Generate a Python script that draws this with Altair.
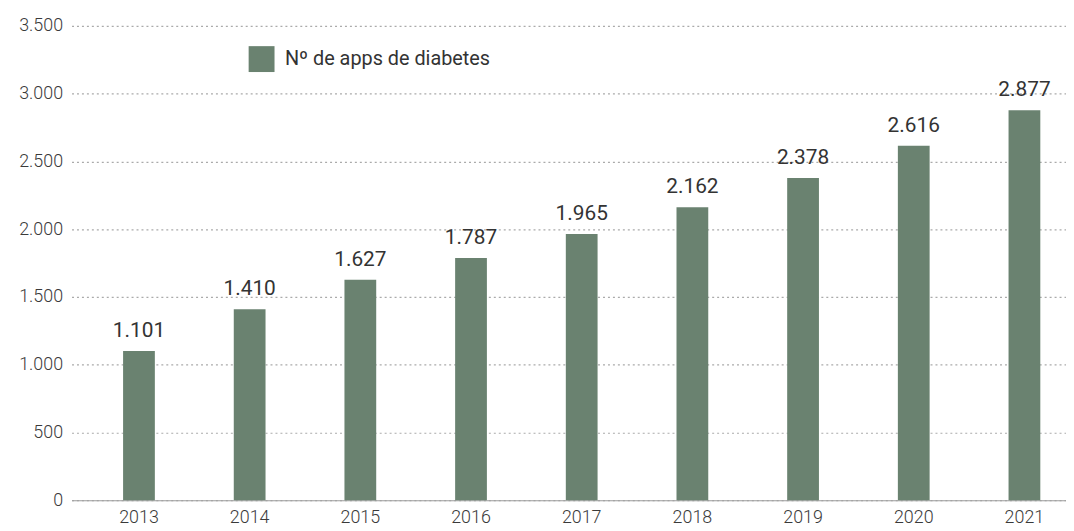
import altair as alt
import pandas as pd

years = ["2013", "2014", "2015", "2016", "2017", "2018", "2019", "2020", "2021"]
apps = [1101, 1410, 1627, 1787, 1965, 2162, 2378, 2616, 2877]
series_name = "Nº de apps de diabetes"

df = pd.DataFrame({"year": years, "apps": apps})
df["serie"] = series_name
df["label"] = [f"{v:,}".replace(",", ".") for v in apps]

FONT = "Roboto"
GREEN = "#6a8270"

x = alt.X("year:N", title=None,
          scale=alt.Scale(paddingInner=0.715, paddingOuter=0.35, align=0.667),
          axis=alt.Axis(labelAngle=0, labelFontSize=18, labelColor="#3a3a3a",
                        labelFont=FONT, labelFontWeight=300, ticks=False,
                        domainColor="#999", labelPadding=8, grid=False))
y = alt.Y("apps:Q", title=None,
          scale=alt.Scale(domain=[0, 3500], nice=False),
          axis=alt.Axis(values=[0, 500, 1000, 1500, 2000, 2500, 3000, 3500],
                        labelExpr="replace(format(datum.value, ','), ',', '.')",
                        labelFontSize=18, labelColor="#3a3a3a", labelFont=FONT,
                        labelFontWeight=300,
                        ticks=False, domain=False, labelPadding=9,
                        gridDash=[2, 3], gridColor="#aaa", gridWidth=1.2))

bars = alt.Chart(df).mark_bar(size=32).encode(
    x=x, y=y,
    color=alt.Color("serie:N", scale=alt.Scale(range=[GREEN]),
                    legend=alt.Legend(title=None, orient="none", legendX=178, legendY=20,
                                      symbolType="square", symbolSize=680,
                                      symbolStrokeWidth=0, symbolOpacity=1,
                                      labelFontSize=20, labelFont=FONT, labelColor="#333",
                                      labelOffset=10, labelLimit=400))
)

labels = alt.Chart(df).mark_text(dy=-14, baseline="alphabetic", fontSize=21,
                                 font=FONT, color="#333").encode(
    x="year:N", y="apps:Q", text="label:N")

chart = (bars + labels).properties(
    width=1002, height=478,
    autosize=alt.AutoSizeParams(type="none"),
    padding={"left": 64, "top": 16, "right": 0, "bottom": 29},
).configure_view(stroke=None)

chart.save("out.html", embed_options={"renderer": "svg", "actions": False})
